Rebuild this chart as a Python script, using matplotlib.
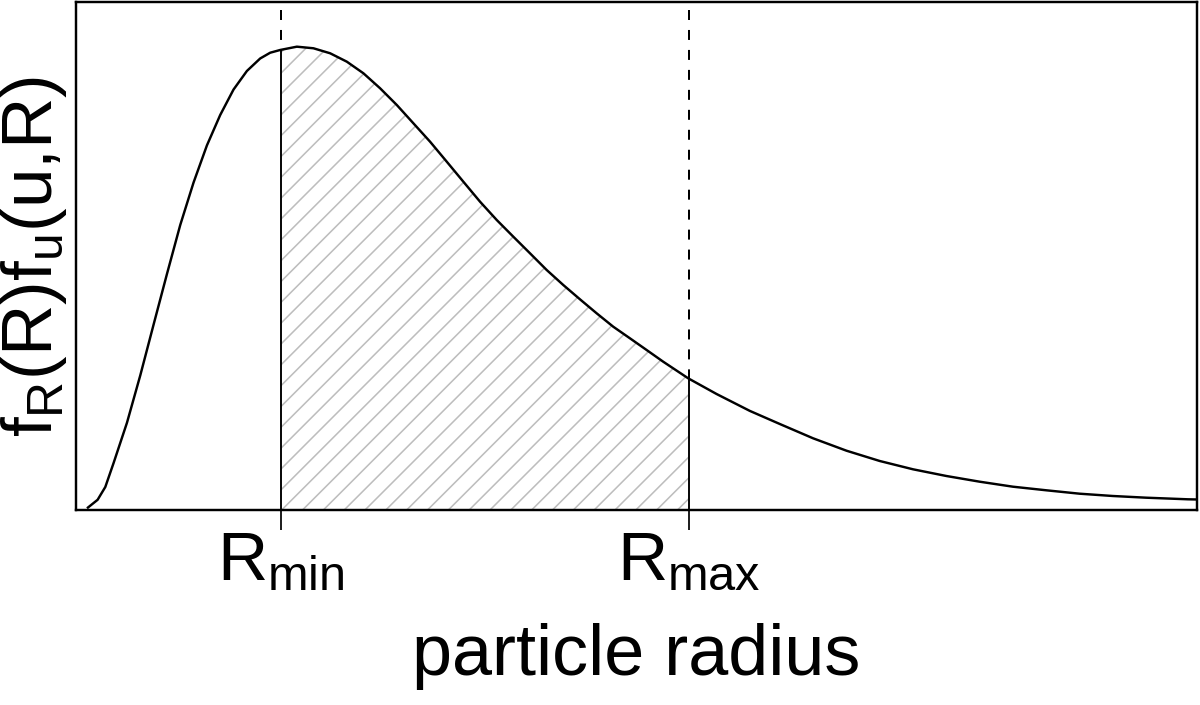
import numpy as np
import matplotlib
matplotlib.use("Agg")
import matplotlib.pyplot as plt

# ---- data (arbitrary units) ----
radius = [0.107, 0.213, 0.29, 0.373, 0.507, 0.64, 0.773, 0.907, 1.04, 1.173,
          1.307, 1.44, 1.573, 1.707, 1.84, 1.94, 2.04, 2.207, 2.373, 2.54,
          2.707, 2.873, 3.04, 3.207, 3.373, 3.54, 3.707, 3.873, 4.04, 4.207,
          4.373, 4.54, 4.707, 4.873, 5.04, 5.207, 5.373, 5.54, 5.707, 5.873,
          6.123, 6.407, 6.74, 7.04, 7.373, 7.707, 8.04, 8.373, 8.707, 9.04,
          9.373, 9.707, 10.04, 10.373, 10.707, 11.123, 11.22]
density = [0.0034, 0.0204, 0.046, 0.094, 0.1746, 0.2692, 0.3706, 0.472, 0.570, 0.6548,
           0.7292, 0.790, 0.8408, 0.878, 0.903, 0.9145, 0.920, 0.9266, 0.9234, 0.9134,
           0.8966, 0.8734, 0.8434, 0.810, 0.7734, 0.7366, 0.6966, 0.6566, 0.6166, 0.580,
           0.5466, 0.5134, 0.480, 0.450, 0.4214, 0.3934, 0.3666, 0.3434, 0.320, 0.2966,
           0.2634, 0.232, 0.1982, 0.172, 0.1434, 0.1186, 0.098, 0.0814, 0.068, 0.0566,
           0.0466, 0.0394, 0.0326, 0.028, 0.0246, 0.0214, 0.021]
r_limits = [2.05, 6.13]
tick_labels = [r"$R_{min}$", r"$R_{max}$"]
x_label = "particle radius"
y_label = r"$f_R(R)f_u(u{,}R)$"

plt.rcParams["font.family"] = ["Liberation Sans", "DejaVu Sans"]
plt.rcParams["mathtext.fontset"] = "custom"
plt.rcParams["mathtext.rm"] = "Liberation Sans"
plt.rcParams["mathtext.it"] = "Liberation Sans"
plt.rcParams["mathtext.bf"] = "Liberation Sans:bold"
plt.rcParams["hatch.linewidth"] = 0.9
plt.rcParams["hatch.color"] = "#bdbdbd"

fig = plt.figure(figsize=(9.6, 5.64), dpi=125)
ax = fig.add_axes([0.0636, 0.2766, 0.9339, 0.7206])

x = np.asarray(radius)
y = np.asarray(density)

# hatched region between the limits
lo, hi = r_limits
inside = (x > lo) & (x < hi)
xs = np.concatenate([[lo], x[inside], [hi]])
ys = np.concatenate([[np.interp(lo, x, y)], y[inside], [np.interp(hi, x, y)]])
ax.fill_between(xs, 0, ys, facecolor="none", edgecolor="#bdbdbd",
                hatch="//", linewidth=0)

# curve
ax.plot(x, y, color="black", lw=1.4, solid_capstyle="butt",
        solid_joinstyle="round")

ymax = 1.0
for r in r_limits:
    yc = np.interp(r, x, y)
    ax.plot([r, r], [0, yc], color="black", lw=1.1)
    ax.plot([r, r], [ymax, yc], color="black", lw=1.15,
            dashes=(5, 5))

ax.set_xlim(0, 11.215)
ax.set_ylim(0, 1.016)

ax.set_xticks(r_limits, labels=tick_labels)
ax.tick_params(axis="x", direction="out", length=11.5, width=1.0,
               labelsize=40, pad=0)
ax.set_yticks([])
for s in ax.spines.values():
    s.set_linewidth(1.4)

ax.set_xlabel(x_label, fontsize=41.5, labelpad=17)
ax.set_ylabel(y_label, fontsize=41, labelpad=4)

fig.savefig("out.png", dpi=125)
